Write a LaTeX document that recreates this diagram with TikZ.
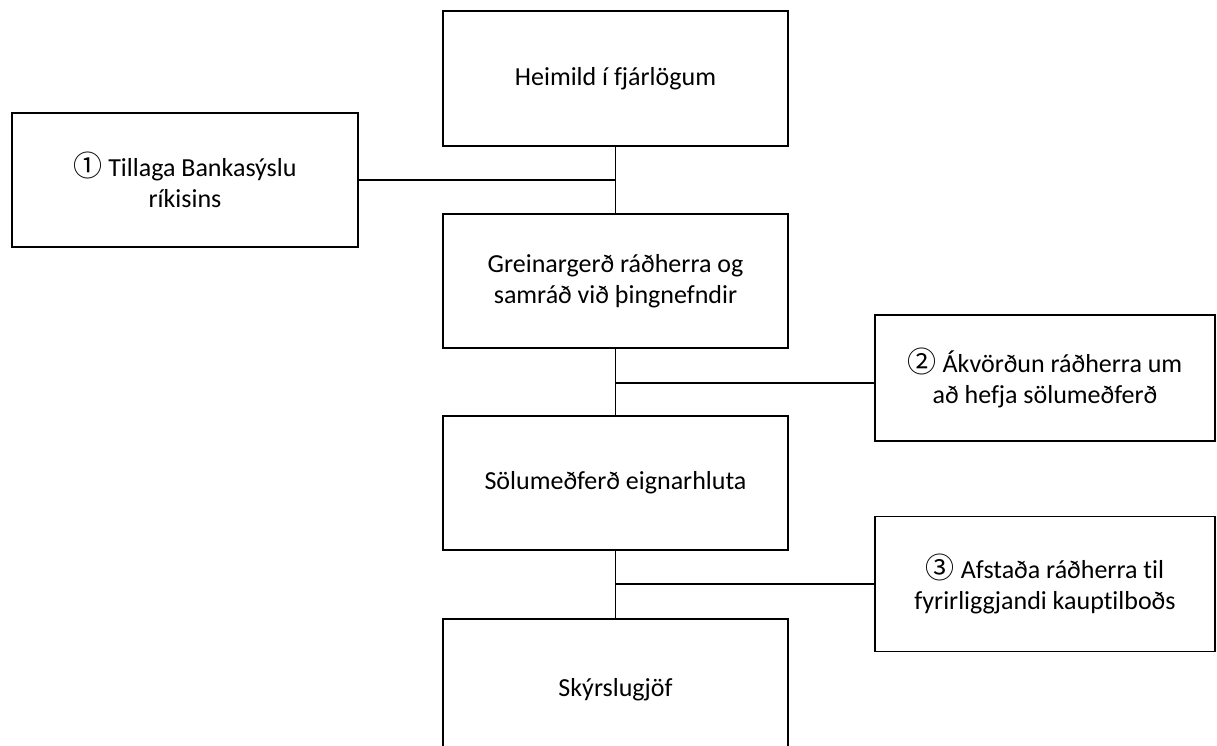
\documentclass[tikz,border=0pt]{standalone}
\usepackage{fontspec}
\setmainfont{Carlito}[Ligatures=NoCommon]
\newfontfamily\circfont{Noto Sans CJK JP}
\newcommand{\circnum}[1]{{\circfont\fontsize{29}{31.5}\selectfont #1}\ }
\begin{document}
\begin{tikzpicture}[x=1pt,y=-1pt,
  box/.style={draw=black,line width=1.6pt,rectangle,inner sep=0pt,align=center,
    font=\fontsize{26}{31.5}\selectfont},
  link/.style={draw=black,line width=1.6pt}]
\useasboundingbox (0,0) rectangle (1217,745);
\node[box,minimum width=345,minimum height=135] (top) at (615.5,78.5) {Heimild í fjárlögum};
\node[box,minimum width=346,minimum height=134] (left) at (185,180) {\circnum{①}Tillaga Bankasýslu\\ríkisins};
\node[box,minimum width=345,minimum height=134] (grein) at (615.5,281) {Greinargerð ráðherra og\\samráð við þingnefndir};
\node[box,minimum width=340,minimum height=126] (r2) at (1045,378) {\circnum{②}Ákvörðun ráðherra um\\að hefja sölumeðferð};
\node[box,minimum width=345,minimum height=134] (sol) at (615.5,483) {Sölumeðferð eignarhluta};
\node[box,minimum width=340,minimum height=135] (r3) at (1045,584) {\circnum{③}Afstaða ráðherra til\\fyrirliggjandi kauptilboðs};
\node[box,minimum width=345,minimum height=142] (sky) at (615.5,690) {Skýrslugjöf};
\coordinate (j1) at (615.5,180);
\coordinate (j2) at (615.5,383);
\coordinate (j3) at (615.5,584);
\draw[link] (top.south) -- (grein.north);
\draw[link] (left.east) -- (j1);
\draw[link] (grein.south) -- (sol.north);
\draw[link] (j2) -- (j2 -| r2.west);
\draw[link] (sol.south) -- (sky.north);
\draw[link] (j3) -- (r3.west);
\end{tikzpicture}
\end{document}
